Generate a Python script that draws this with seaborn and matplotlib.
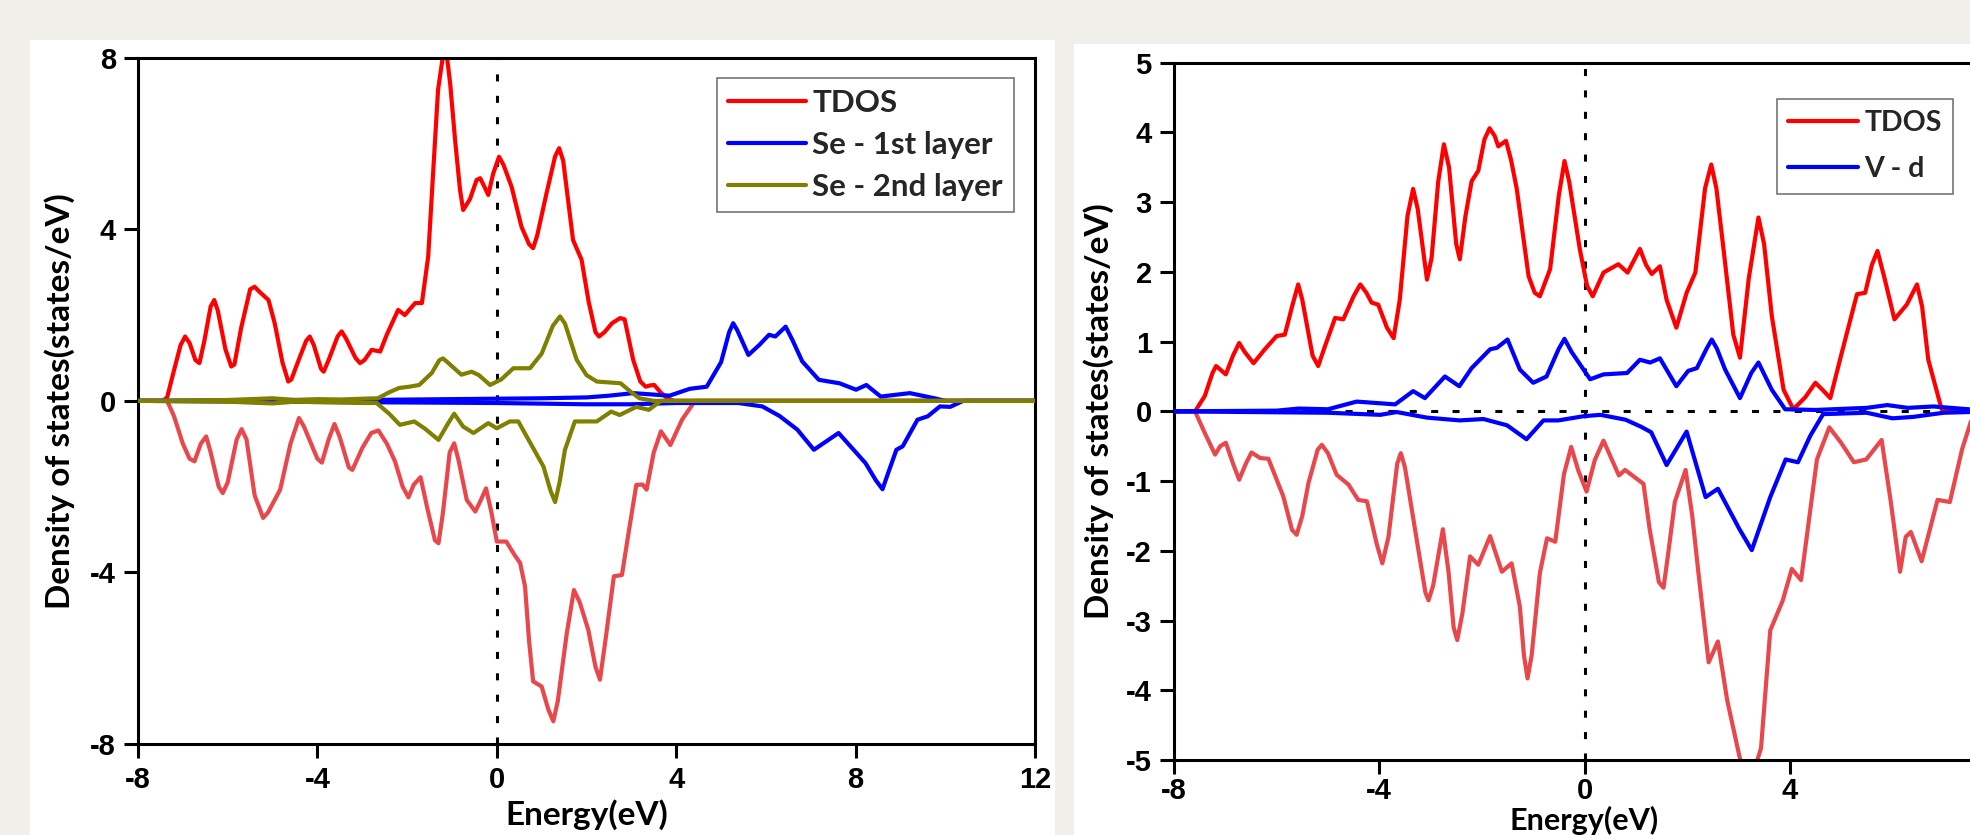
import matplotlib
matplotlib.use("Agg")
import matplotlib.pyplot as plt
from matplotlib.patches import Rectangle
import seaborn as sns

# (energy, DOS) pairs; spin-down parts are negative

# ---- left panel: Se layers ----
tdos_up = [(-8, 0), (-7.45, 0), (-7.35, 0.08), (-7.2, 0.7), (-7.05, 1.3), (-6.95, 1.5),
           (-6.85, 1.35), (-6.72, 0.95), (-6.63, 0.88), (-6.52, 1.4), (-6.38, 2.2), (-6.30, 2.35),
           (-6.22, 2.1), (-6.05, 1.2), (-5.92, 0.8), (-5.85, 0.85), (-5.7, 1.7), (-5.5, 2.6),
           (-5.40, 2.66), (-5.30, 2.55), (-5.09, 2.35), (-4.95, 1.8), (-4.78, 0.9), (-4.65, 0.45),
           (-4.58, 0.5), (-4.4, 1.0), (-4.25, 1.4), (-4.17, 1.5), (-4.08, 1.3), (-3.92, 0.75),
           (-3.86, 0.68), (-3.75, 0.95), (-3.55, 1.5), (-3.46, 1.62), (-3.36, 1.45), (-3.15, 1.0),
           (-3.05, 0.88), (-2.95, 0.95), (-2.79, 1.19), (-2.60, 1.15), (-2.45, 1.55), (-2.20, 2.12),
           (-2.05, 2.00), (-1.82, 2.28), (-1.67, 2.28), (-1.53, 3.36), (-1.42, 5.31), (-1.31, 7.25),
           (-1.2, 8.05), (-1.12, 8.1), (-1.04, 7.4), (-0.93, 6.08), (-0.82, 4.92), (-0.75, 4.45),
           (-0.6, 4.7), (-0.45, 5.15), (-0.37, 5.19), (-0.28, 5.0), (-0.19, 4.80), (-0.08, 5.3),
           (0.05, 5.69), (0.15, 5.5), (0.33, 4.99), (0.55, 4.06), (0.72, 3.65), (0.81, 3.56),
           (0.9, 3.85), (1.1, 4.8), (1.3, 5.7), (1.39, 5.89), (1.48, 5.6), (1.70, 3.75),
           (1.89, 3.29), (2.05, 2.3), (2.2, 1.6), (2.28, 1.50), (2.4, 1.6), (2.57, 1.81),
           (2.75, 1.93), (2.85, 1.9), (3.04, 0.96), (3.2, 0.45), (3.32, 0.33), (3.42, 0.36),
           (3.51, 0.37), (3.65, 0.2), (3.80, 0.06), (3.95, 0), (12, 0)]
tdos_dn = [(-8, 0), (-7.35, 0), (-7.2, -0.35), (-7.0, -1.0), (-6.85, -1.35), (-6.74, -1.41),
           (-6.6, -1.0), (-6.48, -0.83), (-6.38, -1.2), (-6.2, -2.0), (-6.11, -2.15), (-6.0, -1.9),
           (-5.8, -0.9), (-5.69, -0.66), (-5.58, -0.9), (-5.4, -2.2), (-5.21, -2.73), (-5.1, -2.6),
           (-4.83, -2.07), (-4.6, -1.0), (-4.41, -0.40), (-4.3, -0.6), (-4.0, -1.35), (-3.90, -1.44),
           (-3.75, -0.9), (-3.62, -0.54), (-3.5, -0.85), (-3.3, -1.55), (-3.22, -1.61),
           (-3.0, -1.1), (-2.8, -0.75), (-2.64, -0.69), (-2.45, -1.0), (-2.27, -1.41), (-2.1, -2.0),
           (-1.97, -2.25), (-1.85, -1.95), (-1.70, -1.78), (-1.55, -2.5), (-1.38, -3.25),
           (-1.30, -3.32), (-1.2, -2.6), (-1.05, -1.2), (-0.95, -0.99), (-0.85, -1.4),
           (-0.67, -2.31), (-0.48, -2.58), (-0.35, -2.3), (-0.24, -2.04), (-0.12, -2.6),
           (0.0, -3.28), (0.21, -3.28), (0.4, -3.6), (0.52, -3.78), (0.63, -4.33), (0.72, -5.6),
           (0.81, -6.54), (1.00, -6.66), (1.15, -7.2), (1.26, -7.47), (1.36, -7.0), (1.56, -5.42),
           (1.72, -4.41), (1.85, -4.7), (2.04, -5.34), (2.2, -6.2), (2.30, -6.50), (2.42, -5.6),
           (2.61, -4.09), (2.79, -4.06), (2.95, -3.0), (3.11, -1.96), (3.25, -1.95), (3.34, -2.07),
           (3.5, -1.2), (3.66, -0.71), (3.87, -1.03), (4.13, -0.44), (4.42, 0), (12, 0)]
se1_up = [(-8, 0), (-5, 0.02), (-3, 0.02), (0, 0.05), (1, 0.06), (2, 0.08), (2.5, 0.12),
          (3.04, 0.18), (3.85, 0.12), (4.3, 0.28), (4.68, 0.33), (5.0, 0.9), (5.18, 1.6),
          (5.27, 1.81), (5.36, 1.65), (5.61, 1.07), (5.85, 1.3), (6.07, 1.54), (6.21, 1.50),
          (6.44, 1.73), (6.6, 1.4), (6.81, 0.92), (7.18, 0.49), (7.64, 0.41), (8.01, 0.26),
          (8.24, 0.37), (8.56, 0.10), (9.21, 0.18), (9.76, 0.06), (10.0, 0), (12, 0)]
se1_dn = [(-8, 0), (-5, -0.02), (0, -0.05), (2, -0.08), (3, -0.08), (4, -0.05), (5.38, -0.05),
          (5.92, -0.13), (6.3, -0.35), (6.70, -0.67), (7.07, -1.14), (7.62, -0.75), (8.22, -1.45),
          (8.45, -1.85), (8.6, -2.06), (8.72, -1.7), (8.91, -1.14), (9.05, -1.06), (9.38, -0.44),
          (9.61, -0.36), (9.88, -0.13), (10.11, -0.14), (10.4, 0), (12, 0)]
se2_up = [(-8, 0), (-7, 0.01), (-6, 0.02), (-5, 0.06), (-4.5, 0.02), (-4, 0.04), (-3.5, 0.03),
          (-3, 0.05), (-2.65, 0.06), (-2.4, 0.2), (-2.18, 0.30), (-1.95, 0.33), (-1.73, 0.37),
          (-1.45, 0.65), (-1.28, 0.95), (-1.20, 0.99), (-1.1, 0.9), (-0.79, 0.61), (-0.56, 0.68),
          (-0.4, 0.6), (-0.15, 0.37), (0.1, 0.5), (0.37, 0.76), (0.74, 0.76), (1.0, 1.1),
          (1.25, 1.75), (1.41, 1.97), (1.52, 1.8), (1.78, 0.96), (2.0, 0.6), (2.23, 0.45),
          (2.76, 0.41), (3.0, 0.2), (3.18, 0.06), (3.5, 0), (12, 0)]
se2_dn = [(-8, 0), (-6, -0.02), (-5, -0.06), (-4.5, -0.02), (-4, -0.03), (-3, -0.05),
          (-2.68, -0.05), (-2.4, -0.3), (-2.16, -0.56), (-1.84, -0.48), (-1.6, -0.65),
          (-1.30, -0.91), (-1.1, -0.55), (-0.95, -0.30), (-0.75, -0.6), (-0.52, -0.75),
          (-0.19, -0.52), (0.0, -0.64), (0.29, -0.48), (0.48, -0.48), (0.81, -1.10), (1.04, -1.53),
          (1.2, -2.1), (1.30, -2.36), (1.40, -1.9), (1.52, -1.14), (1.74, -0.48), (2.23, -0.48),
          (2.55, -0.25), (2.74, -0.33), (3.11, -0.14), (3.39, -0.21), (3.66, 0), (12, 0)]

# ---- right panel: V-d ----
r_tdos_up = [(-8, 0), (-7.59, 0), (-7.40, 0.22), (-7.25, 0.55), (-7.18, 0.65), (-7.1, 0.6),
             (-6.99, 0.53), (-6.85, 0.8), (-6.73, 0.98), (-6.62, 0.85), (-6.45, 0.69),
             (-6.23, 0.89), (-6.0, 1.08), (-5.84, 1.10), (-5.7, 1.5), (-5.58, 1.82), (-5.5, 1.6),
             (-5.3, 0.8), (-5.19, 0.65), (-5.05, 0.95), (-4.86, 1.34), (-4.70, 1.32), (-4.5, 1.65),
             (-4.37, 1.82), (-4.25, 1.7), (-4.15, 1.56), (-4.02, 1.53), (-3.85, 1.2), (-3.72, 1.05),
             (-3.6, 1.6), (-3.45, 2.8), (-3.34, 3.19), (-3.25, 2.9), (-3.07, 1.89), (-2.98, 2.2),
             (-2.85, 3.3), (-2.74, 3.83), (-2.64, 3.5), (-2.50, 2.4), (-2.43, 2.18), (-2.32, 2.8),
             (-2.20, 3.30), (-2.07, 3.45), (-1.95, 3.9), (-1.85, 4.06), (-1.75, 3.95),
             (-1.68, 3.80), (-1.53, 3.88), (-1.43, 3.6), (-1.32, 3.19), (-1.09, 1.94), (-0.97, 1.7),
             (-0.87, 1.65), (-0.67, 2.04), (-0.5, 3.1), (-0.39, 3.59), (-0.3, 3.3), (-0.09, 2.32),
             (0.05, 1.8), (0.16, 1.65), (0.37, 1.99), (0.66, 2.11), (0.84, 1.99), (1.08, 2.33),
             (1.2, 2.1), (1.31, 1.97), (1.47, 2.08), (1.6, 1.6), (1.79, 1.20), (1.99, 1.70),
             (2.16, 1.99), (2.35, 3.2), (2.47, 3.54), (2.57, 3.2), (2.71, 2.32), (2.9, 1.1),
             (3.03, 0.77), (3.2, 1.9), (3.39, 2.78), (3.5, 2.4), (3.65, 1.37), (3.88, 0.31),
             (4.07, 0.03), (4.3, 0.2), (4.50, 0.41), (4.65, 0.3), (4.79, 0.19), (5.0, 0.8),
             (5.31, 1.68), (5.47, 1.70), (5.6, 2.1), (5.71, 2.30), (5.85, 1.9), (6.04, 1.32),
             (6.28, 1.53), (6.48, 1.82), (6.58, 1.5), (6.70, 0.74), (6.96, 0.03), (8, 0)]
r_tdos_dn = [(-8, 0), (-7.59, 0), (-7.40, -0.31), (-7.20, -0.62), (-7.1, -0.5), (-6.99, -0.45),
             (-6.85, -0.75), (-6.73, -0.98), (-6.6, -0.75), (-6.49, -0.59), (-6.32, -0.67),
             (-6.16, -0.68), (-5.87, -1.22), (-5.70, -1.7), (-5.61, -1.77), (-5.5, -1.5),
             (-5.38, -1.03), (-5.2, -0.55), (-5.12, -0.48), (-5.0, -0.6), (-4.83, -0.91),
             (-4.60, -1.05), (-4.41, -1.27), (-4.24, -1.29), (-4.05, -1.9), (-3.94, -2.18),
             (-3.82, -1.8), (-3.65, -0.75), (-3.58, -0.60), (-3.5, -0.8), (-3.27, -1.84),
             (-3.1, -2.6), (-3.04, -2.71), (-2.95, -2.5), (-2.76, -1.69), (-2.65, -2.3),
             (-2.55, -3.1), (-2.48, -3.28), (-2.38, -2.9), (-2.23, -2.08), (-2.07, -2.20),
             (-1.84, -1.79), (-1.61, -2.30), (-1.42, -2.18), (-1.26, -2.80), (-1.18, -3.5),
             (-1.11, -3.83), (-1.03, -3.5), (-0.87, -2.32), (-0.73, -1.82), (-0.57, -1.87),
             (-0.4, -0.9), (-0.26, -0.51), (-0.12, -0.85), (0.04, -1.15), (0.2, -0.7),
             (0.37, -0.42), (0.67, -0.92), (0.79, -0.84), (1.15, -1.04), (1.27, -1.69),
             (1.45, -2.45), (1.54, -2.53), (1.62, -2.1), (1.76, -1.30), (1.97, -0.84), (2.1, -1.5),
             (2.23, -2.38), (2.42, -3.60), (2.60, -3.30), (2.78, -4.14), (3.02, -4.95),
             (3.2, -5.4), (3.44, -4.83), (3.62, -3.14), (3.86, -2.72), (4.04, -2.26), (4.22, -2.42),
             (4.53, -0.69), (4.77, -0.23), (5.0, -0.45), (5.25, -0.73), (5.49, -0.69),
             (5.79, -0.41), (5.97, -1.30), (6.15, -2.30), (6.26, -1.8), (6.36, -1.73),
             (6.57, -2.15), (6.88, -1.27), (7.12, -1.30), (7.36, -0.54), (7.55, -0.1), (7.7, 0),
             (8, 0)]
vd_up = [(-8, 0), (-6, 0.01), (-5.57, 0.04), (-5, 0.03), (-4.44, 0.14), (-3.69, 0.10),
         (-3.34, 0.29), (-3.11, 0.19), (-2.72, 0.50), (-2.44, 0.36), (-2.20, 0.62), (-1.84, 0.89),
         (-1.71, 0.91), (-1.50, 1.03), (-1.26, 0.60), (-1.00, 0.41), (-0.74, 0.50), (-0.5, 0.9),
         (-0.39, 1.04), (-0.25, 0.85), (0.11, 0.46), (0.37, 0.53), (0.83, 0.55), (1.08, 0.74),
         (1.28, 0.70), (1.47, 0.76), (1.79, 0.36), (2.02, 0.58), (2.19, 0.62), (2.38, 0.9),
         (2.48, 1.03), (2.58, 0.9), (2.74, 0.60), (3.03, 0.19), (3.25, 0.55), (3.39, 0.70),
         (3.65, 0.31), (3.91, 0.03), (4.5, 0.02), (5.5, 0.05), (5.9, 0.09), (6.3, 0.05),
         (6.8, 0.07), (8, 0)]
vd_dn = [(-8, 0), (-5, -0.02), (-3.98, -0.05), (-3.66, -0.01), (-3.07, -0.09), (-2.43, -0.13),
         (-1.97, -0.11), (-1.51, -0.20), (-1.13, -0.40), (-0.80, -0.13), (-0.51, -0.13),
         (-0.02, -0.07), (0.31, -0.05), (0.8, -0.12), (1.1, -0.22), (1.3, -0.30), (1.6, -0.77),
         (1.99, -0.29), (2.36, -1.23), (2.60, -1.11), (3.02, -1.69), (3.26, -1.99), (3.62, -1.23),
         (3.92, -0.69), (4.16, -0.73), (4.4, -0.35), (4.65, -0.04), (5.5, -0.02), (6.0, -0.1),
         (6.4, -0.08), (7.0, -0.02), (8, 0)]

RED, RED_DN, BLUE, OLIVE = "#ff0000", "#e8474b", "#0000ff", "#808000"
TICK_FONT = ["Liberation Sans", "DejaVu Sans"]
LABEL_FONT = ["Lato", "DejaVu Sans"]

sns.set_theme(style="ticks")
plt.rcParams["font.family"] = TICK_FONT
plt.rcParams["axes.unicode_minus"] = False
plt.rcParams["axes.linewidth"] = 2.2

W, H = 1970, 835
fig = plt.figure(figsize=(W / 100, H / 100), dpi=100, facecolor="#f1efe9")
# white panels behind each chart
fig.patches.append(Rectangle((30 / W, 0), 1025 / W, 795 / H, transform=fig.transFigure,
                             facecolor="white", edgecolor="none", zorder=-5))
fig.patches.append(Rectangle((1074 / W, 0), 896 / W, 791 / H, transform=fig.transFigure,
                             facecolor="white", edgecolor="none", zorder=-5))

ax1 = fig.add_axes([138 / W, (H - 744) / H, 897 / W, 686.3 / H])
ax2 = fig.add_axes([1174 / W, (H - 760) / H, 821 / W, 697.3 / H])


def draw(ax, pts, color, z=2):
    e = [p[0] for p in pts]
    v = [p[1] for p in pts]
    sns.lineplot(x=e, y=v, ax=ax, color=color, linewidth=3.0, estimator=None, sort=False,
                 zorder=z)
    line = ax.lines[-1]
    line.set_solid_joinstyle("round")
    return line


dots = (0, (2.3, 4.7))

# left chart
ax1.axvline(0, color="black", lw=2.2, linestyle=dots, zorder=1)
h1 = draw(ax1, tdos_up, RED)
draw(ax1, tdos_dn, RED_DN)
h2 = draw(ax1, se1_up, BLUE, z=3)
draw(ax1, se1_dn, BLUE, z=3)
h3 = draw(ax1, se2_up, OLIVE, z=4)
draw(ax1, se2_dn, OLIVE, z=4)
ax1.set_xlim(-8, 12)
ax1.set_ylim(-8, 8)
ax1.set_xticks([-8, -4, 0, 4, 8, 12])
ax1.set_yticks([-8, -4, 0, 4, 8])
ax1.legend([h1, h2, h3], ["TDOS", "Se - 1st layer", "Se - 2nd layer"],
           loc="upper left", bbox_to_anchor=(717 / W, 1 - 78 / H),
           bbox_transform=fig.transFigure,
           prop={"family": LABEL_FONT, "weight": "bold", "size": 22.5},
           handlelength=2.5, handletextpad=0.2, labelspacing=0.45, borderpad=0.35,
           borderaxespad=0, fancybox=False, framealpha=1, edgecolor="#6a6a6a")

# right chart
ax2.axvline(0, color="black", lw=2.2, linestyle=dots, zorder=1)
ax2.axhline(0, color="black", lw=2.2, linestyle=dots, zorder=1)
g1 = draw(ax2, r_tdos_up, RED)
draw(ax2, r_tdos_dn, RED_DN)
g2 = draw(ax2, vd_up, BLUE, z=3)
draw(ax2, vd_dn, BLUE, z=3)
ax2.set_xlim(-8, 8)
ax2.set_ylim(-5, 5)
ax2.set_xticks([-8, -4, 0, 4])
ax2.set_yticks(range(-5, 6))
ax2.legend([g1, g2], ["TDOS", "V - d"],
           loc="upper left", bbox_to_anchor=(1777 / W, 1 - 99 / H),
           bbox_transform=fig.transFigure,
           prop={"family": LABEL_FONT, "weight": "bold", "size": 20.5},
           handlelength=2.45, handletextpad=0.22, labelspacing=0.7, borderpad=0.4,
           borderaxespad=0, fancybox=False, framealpha=1, edgecolor="#6a6a6a")

for ax, ylx, xly, xsize, xpad in [(ax1, -0.070, -0.080, 24, 6), (ax2, -0.073, -0.066, 22, 2)]:
    leg = ax.get_legend()
    leg.get_frame().set_linewidth(1.1)
    for ln in leg.get_lines():
        ln.set_linewidth(3.0)
    for s in ax.spines.values():
        s.set_color("black")
        s.set_linewidth(2.2)
    ax.set_facecolor("white")
    ax.tick_params(which="major", direction="out", length=10, width=2.2, color="black",
                   labelsize=21, labelcolor="black", left=True, bottom=True, top=False,
                   right=False)
    ax.tick_params(axis="y", pad=6)
    ax.tick_params(axis="x", pad=xpad)
    for t in ax.get_xticklabels() + ax.get_yticklabels():
        t.set_fontweight("bold")
    ax.set_xlabel("Energy(eV)", family=LABEL_FONT, weight="bold", size=xsize, color="black")
    ax.set_ylabel("Density of states(states/eV)", family=LABEL_FONT, weight="bold", size=24,
                  color="black")
    ax.xaxis.label.set_va("top")
    ax.xaxis.set_label_coords(0.5, xly)
    ax.yaxis.set_label_coords(ylx, 0.5)
    ax.grid(False)

fig.savefig("out.png", dpi=100, facecolor=fig.get_facecolor())
